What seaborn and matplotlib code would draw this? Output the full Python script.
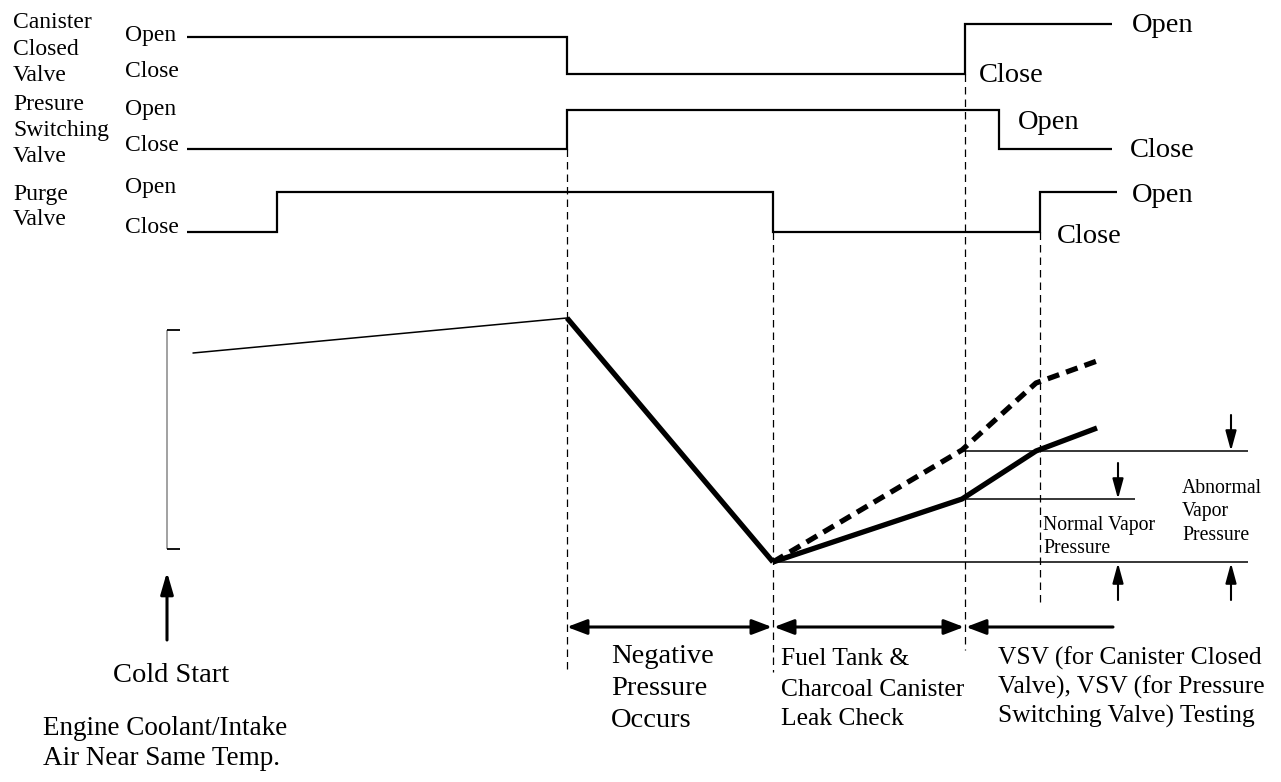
import matplotlib
matplotlib.use("Agg")
import matplotlib.pyplot as plt
import seaborn as sns
import pandas as pd

# ---------------- data (schematic timing diagram, figure-pixel units) ----------------
# valve step traces: event times and level after each event
ccv_t = [187, 567, 965, 1112]
ccv_lvl = [37, 74, 24, 24]
psv_t = [187, 567, 999, 1112]
psv_lvl = [149, 110, 149, 149]
purge_t = [187, 277, 773, 1040, 1117]
purge_lvl = [232, 192, 232, 192, 192]

# pressure curves
warm_t = [193, 567]
warm_p = [353, 318]
drop_t = [567, 773]
drop_p = [318, 562]
normal_t = [773, 962, 1036, 1097]
normal_p = [562, 499, 451, 428]
abnormal_t = [773, 962, 1036, 1097]
abnormal_p = [562, 450, 383, 361]

# phase boundaries (dashed verticals): x, top, bottom
phase_x = [567, 773, 965, 1040]
phase_top = [149, 232, 74, 232]
phase_bot = [672, 672, 650, 605]

# reference levels: y, x start, x end
ref_y = [562, 451, 499]
ref_x0 = [773, 962, 962]
ref_x1 = [1248, 1248, 1135]

# ---------------- style ----------------
sns.set_theme(style="white")
plt.rcParams["font.family"] = ["Liberation Serif", "DejaVu Serif"]

fig = plt.figure(figsize=(12.81, 7.82), dpi=100)
ax = fig.add_axes([0, 0, 1, 1])

K = "black"
step_kw = dict(color=K, linewidth=1.6, estimator=None, sort=False,
               drawstyle="steps-post", solid_joinstyle="miter", solid_capstyle="butt")
for t, lv in [(ccv_t, ccv_lvl), (psv_t, psv_lvl), (purge_t, purge_lvl)]:
    sns.lineplot(x=t, y=lv, ax=ax, **step_kw)

sns.lineplot(x=warm_t, y=warm_p, ax=ax, color=K, linewidth=1.1, estimator=None, sort=False)
sns.lineplot(x=drop_t, y=drop_p, ax=ax, color=K, linewidth=3.8, estimator=None, sort=False,
             solid_capstyle="butt")
sns.lineplot(x=normal_t, y=normal_p, ax=ax, color=K, linewidth=3.8, estimator=None,
             sort=False, solid_joinstyle="round", solid_capstyle="butt")
sns.lineplot(x=abnormal_t, y=abnormal_p, ax=ax, color=K, linewidth=3.8, estimator=None,
             sort=False, linestyle=(0, (2.3, 1.4)), dash_capstyle="butt")

# dashed phase boundaries
ax.vlines(phase_x, phase_top, phase_bot, colors=K, linewidth=0.9,
          linestyles=[(0, (6, 4))])

# reference horizontal lines
ax.hlines(ref_y, ref_x0, ref_x1, colors=K, linewidth=1.1)

# bracket at left
ax.vlines([167], [330], [549], colors="#9a9a9a", linewidth=1.3)
ax.hlines([330, 549], [167, 167], [180, 180], colors=K, linewidth=1.3)

# arrows
def arrow(x0, y0, x1, y1, style, lw, ms):
    ax.annotate("", xy=(x1, y1), xytext=(x0, y0),
                arrowprops=dict(arrowstyle=style, lw=lw, color=K,
                                mutation_scale=ms, shrinkA=0, shrinkB=0))

hd = "<|-|>,head_length=1.0,head_width=0.38"
arrow(567, 627, 772, 627, hd, 2.2, 12)
arrow(774, 627, 964, 627, hd, 2.2, 12)
arrow(1113, 627, 966, 627, "-|>,head_length=1.0,head_width=0.38", 2.2, 12)

va = "-|>,head_length=1.1,head_width=0.3"
arrow(1118, 463, 1118, 499, va, 1.5, 11)
arrow(1118, 600, 1118, 563, va, 1.5, 11)
arrow(1231, 415, 1231, 451, va, 1.5, 11)
arrow(1231, 600, 1231, 563, va, 1.5, 11)
arrow(167, 640, 167, 572, "-|>,head_length=1.1,head_width=0.32", 2.2, 12)

# ---------------- texts ----------------
def txt(x, y, s, size, ha="left"):
    ax.text(x, y, s, fontsize=size, ha=ha, va="baseline", color=K)

# left row titles
for s, y in [("Canister", 28), ("Closed", 55), ("Valve", 81),
             ("Presure", 110), ("Switching", 136), ("Valve", 162),
             ("Purge", 200), ("Valve", 225)]:
    txt(13, y, s, 17)
for s, y in [("Open", 41), ("Close", 77), ("Open", 115),
             ("Close", 151), ("Open", 193), ("Close", 233)]:
    txt(125, y, s, 17)

# right state labels
for s, x, y in [("Open", 1132, 32), ("Close", 979, 82), ("Open", 1018, 129),
                ("Close", 1130, 157), ("Open", 1132, 202), ("Close", 1057, 243)]:
    txt(x, y, s, 20.5)

txt(1043, 530, "Normal Vapor", 14.2)
txt(1043, 553, "Pressure", 14.2)
txt(1182, 493, "Abnormal", 14.2)
txt(1182, 516, "Vapor", 14.2)
txt(1182, 540, "Pressure", 14.2)

txt(171, 682, "Cold Start", 20.5, ha="center")
txt(43, 735, "Engine Coolant/Intake", 19.5)
txt(43, 765, "Air Near Same Temp.", 19.5)

for s, y in [("Negative", 663), ("Pressure", 695), ("Occurs", 727)]:
    txt(611, y, s, 20.5)
for s, y in [("Fuel Tank &", 665), ("Charcoal Canister", 696), ("Leak Check", 725)]:
    txt(781, y, s, 18.4)
for s, y in [("VSV (for Canister Closed", 665), ("Valve), VSV (for Pressure", 694),
             ("Switching Valve) Testing", 723)]:
    txt(998, y, s, 18.4)

ax.set_xlim(0, 1281)
ax.set_ylim(782, 0)
ax.axis("off")
if ax.get_legend() is not None:
    ax.get_legend().remove()

fig.savefig("out.png", dpi=100, facecolor="white")
